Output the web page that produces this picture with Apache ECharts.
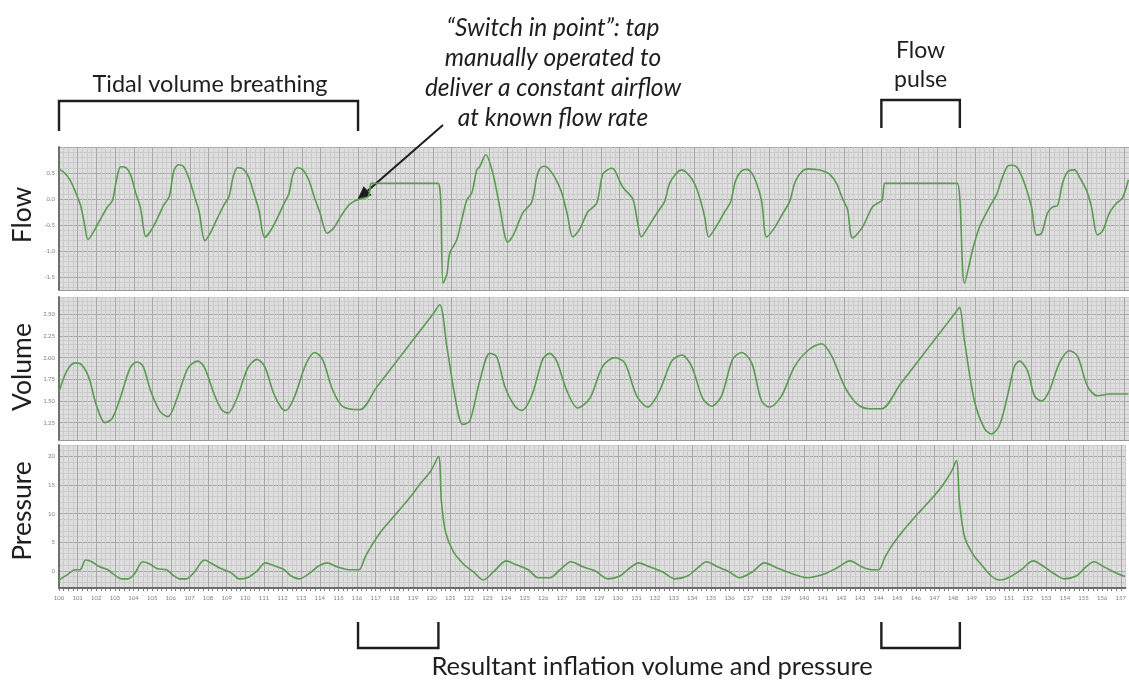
<!DOCTYPE html>
<html>
<head>
<meta charset="utf-8">
<script src="https://cdn.jsdelivr.net/npm/echarts@6/dist/echarts.min.js"></script>
<style>
  html, body { margin: 0; padding: 0; background: #ffffff; }
  #chart { width: 1129px; height: 686px; }
</style>
</head>
<body>
<div id="chart"></div>
<script>
// Time axis (s) and recorded traces: [time, value]
const timeTicks = { min: 100, max: 157.25, step: 0.25 };

const flow = [
  [100.0, 0.58], [100.3, 0.50], [100.6, 0.36], [100.9, 0.12], [101.15, -0.12], [101.35, -0.45],
  [101.55, -0.78], [101.8, -0.66], [102.2, -0.40], [102.6, -0.15], [102.85, -0.04], [103.05, 0.32],
  [103.3, 0.62], [103.6, 0.60], [103.85, 0.45], [104.1, 0.12], [104.35, -0.15], [104.65, -0.72],
  [104.9, -0.62], [105.3, -0.35], [105.6, -0.12], [105.9, 0.05], [106.15, 0.55], [106.4, 0.66],
  [106.65, 0.63], [106.95, 0.40], [107.25, 0.05], [107.5, -0.25], [107.8, -0.80], [108.1, -0.65],
  [108.5, -0.35], [108.85, -0.10], [109.1, 0.05], [109.3, 0.40], [109.55, 0.60], [109.85, 0.58],
  [110.15, 0.42], [110.45, 0.08], [110.7, -0.22], [111.0, -0.74], [111.3, -0.62], [111.7, -0.35],
  [112.05, -0.08], [112.3, 0.10], [112.5, 0.45], [112.75, 0.60], [113.05, 0.56], [113.35, 0.38],
  [113.65, 0.05], [113.95, -0.25], [114.35, -0.66], [114.7, -0.56], [115.1, -0.32], [115.5, -0.12],
  [115.8, -0.04], [116.1, 0.0], [116.55, 0.05], [116.7, 0.30], [116.85, 0.30], [120.2, 0.30],
  [120.3, 0.30], [120.42, 0.0], [120.55, -1.62], [120.75, -1.45], [120.91, -1.04], [121.28, -0.79],
  [121.55, -0.40], [121.82, -0.02], [122.09, 0.12], [122.35, 0.56], [122.51, 0.62], [122.83, 0.85],
  [123.21, 0.50], [123.58, -0.15], [124.01, -0.83], [124.3, -0.70], [124.81, -0.27], [125.29, -0.06],
  [125.56, 0.42], [125.72, 0.58], [125.95, 0.63], [126.15, 0.60], [126.52, 0.42], [126.9, 0.12],
  [127.2, -0.30], [127.49, -0.73], [127.86, -0.58], [128.29, -0.25], [128.77, -0.08], [129.09, 0.48],
  [129.36, 0.56], [129.55, 0.59], [129.73, 0.55], [130.16, 0.23], [130.7, 0.0], [130.96, -0.46],
  [131.15, -0.73], [131.5, -0.55], [132.03, -0.25], [132.4, -0.05], [132.67, 0.30], [133.05, 0.50],
  [133.3, 0.56], [133.6, 0.50], [134.0, 0.30], [134.3, 0.0], [134.55, -0.35], [134.76, -0.73],
  [135.13, -0.55], [135.61, -0.25], [135.94, -0.05], [136.2, 0.35], [136.52, 0.54], [136.8, 0.57],
  [137.06, 0.50], [137.33, 0.30], [137.6, -0.05], [137.86, -0.73], [138.29, -0.55], [138.77, -0.25],
  [139.09, -0.05], [139.41, 0.35], [139.79, 0.54], [140.1, 0.58], [140.43, 0.57], [140.8, 0.55],
  [141.23, 0.48], [141.6, 0.30], [141.93, 0.0], [142.19, -0.20], [142.46, -0.75], [142.99, -0.54],
  [143.53, -0.15], [143.9, -0.06], [144.05, -0.02], [144.17, 0.30], [144.3, 0.30], [147.95, 0.30],
  [148.07, 0.30], [148.2, 0.0], [148.45, -1.62], [148.88, -0.98], [149.25, -0.54], [149.79, -0.15],
  [150.16, 0.08], [150.48, 0.42], [150.75, 0.63], [151.0, 0.65], [151.28, 0.60], [151.66, 0.30],
  [152.03, -0.15], [152.3, -0.69], [152.57, -0.66], [152.89, -0.27], [153.16, -0.15], [153.42, -0.13],
  [153.69, 0.30], [153.96, 0.52], [154.33, 0.56], [154.6, 0.42], [154.97, 0.17], [155.24, -0.15],
  [155.56, -0.69], [155.83, -0.62], [156.2, -0.27], [156.58, -0.08], [156.9, 0.02], [157.22, 0.37]
];

const volume = [
  [100.0, 1.60], [100.4, 1.84], [100.86, 1.94], [101.2, 1.92], [101.6, 1.77], [102.0, 1.45],
  [102.46, 1.25], [102.85, 1.30], [103.3, 1.55], [103.8, 1.88], [104.17, 1.95], [104.5, 1.90],
  [104.9, 1.62], [105.4, 1.38], [105.83, 1.32], [106.3, 1.52], [106.9, 1.88], [107.43, 1.96],
  [107.8, 1.88], [108.3, 1.58], [108.7, 1.40], [109.04, 1.36], [109.5, 1.52], [110.1, 1.88],
  [110.59, 1.98], [111.0, 1.90], [111.5, 1.58], [111.9, 1.42], [112.14, 1.39], [112.6, 1.55],
  [113.2, 1.92], [113.69, 2.06], [114.1, 1.98], [114.6, 1.65], [115.1, 1.45], [115.5, 1.41],
  [116.1, 1.40], [117.0, 1.66], [118.0, 1.94], [119.0, 2.22], [120.0, 2.50], [120.37, 2.61],
  [120.75, 2.13], [121.18, 1.56], [121.6, 1.23], [121.98, 1.27], [122.51, 1.73], [123.05, 2.05],
  [123.42, 2.01], [123.85, 1.67], [124.39, 1.44], [124.76, 1.39], [125.29, 1.56], [125.88, 1.98],
  [126.26, 2.05], [126.63, 1.96], [127.17, 1.62], [127.75, 1.42], [128.4, 1.53], [129.09, 1.90],
  [129.73, 2.00], [130.27, 1.94], [130.91, 1.56], [131.5, 1.43], [132.14, 1.62], [132.78, 1.96],
  [133.32, 2.03], [133.85, 1.90], [134.44, 1.53], [134.92, 1.44], [135.45, 1.56], [136.04, 1.98],
  [136.52, 2.06], [137.06, 1.94], [137.59, 1.50], [138.02, 1.43], [138.66, 1.56], [139.36, 1.90],
  [140.16, 2.10], [140.8, 2.16], [141.34, 2.02], [142.03, 1.67], [142.73, 1.46], [143.37, 1.41],
  [144.01, 1.41], [145.0, 1.69], [146.0, 1.97], [147.0, 2.25], [148.0, 2.53], [148.18, 2.58],
  [148.45, 2.19], [148.98, 1.50], [149.52, 1.18], [149.89, 1.12], [150.32, 1.22], [150.75, 1.56],
  [151.12, 1.90], [151.39, 1.96], [151.82, 1.85], [152.19, 1.56], [152.57, 1.50], [152.99, 1.62],
  [153.53, 1.94], [154.06, 2.08], [154.49, 2.02], [155.03, 1.67], [155.56, 1.56], [156.2, 1.58],
  [157.22, 1.58]
];

const pressure = [
  [100.0, -1.6], [100.43, -0.7], [100.86, 0.2], [101.12, 0.2], [101.44, 1.9], [101.76, 1.6],
  [102.19, 0.7], [102.62, 0.2], [102.89, -0.5], [103.37, -1.4], [103.69, -1.4], [104.06, -0.5],
  [104.49, 1.6], [104.87, 1.2], [105.29, 0.35], [105.78, 0.2], [106.1, -0.7], [106.47, -1.4],
  [106.84, -1.4], [107.27, -0.2], [107.81, 1.9], [108.24, 1.2], [108.72, 0.35], [109.25, -0.35],
  [109.68, -1.4], [110.11, -1.2], [110.64, 0.0], [111.07, 1.4], [111.55, 0.9], [112.09, 0.2],
  [112.46, -0.9], [112.89, -1.4], [113.42, -0.5], [113.96, 0.9], [114.39, 1.4], [114.92, 0.7],
  [115.56, 0.2], [116.1, 0.2], [116.42, 2.3], [116.74, 4.2], [117.27, 6.8], [117.81, 8.9],
  [118.34, 10.9], [118.88, 13.0], [119.41, 15.3], [119.95, 17.4], [120.37, 20.0], [120.53, 12.1],
  [120.75, 6.8], [121.18, 3.3], [121.71, 1.2], [122.25, -0.2], [122.78, -1.6], [123.32, -0.2],
  [124.01, 1.75], [124.55, 1.05], [125.19, 0.2], [125.72, -1.2], [126.36, -1.2], [126.9, 0.2],
  [127.49, 1.6], [128.13, 0.7], [128.77, 0.0], [129.47, -1.4], [130.11, -0.9], [130.64, 0.5],
  [131.12, 1.4], [131.71, 0.7], [132.41, -0.2], [133.05, -1.4], [133.74, -0.9], [134.28, 0.5],
  [134.76, 1.6], [135.35, 0.7], [135.99, -0.2], [136.52, -1.2], [137.22, -0.2], [137.86, 1.4],
  [138.56, 0.5], [139.36, -0.5], [140.16, -1.2], [140.96, -0.7], [141.76, 0.5], [142.46, 1.75],
  [143.1, 0.7], [143.64, 0.2], [144.01, 0.2], [144.33, 2.3], [144.71, 4.4], [145.24, 6.7],
  [145.78, 8.8], [146.31, 10.7], [146.84, 12.6], [147.38, 14.7], [147.91, 17.4], [148.18, 19.3],
  [148.34, 12.1], [148.61, 6.0], [149.04, 3.0], [149.52, 1.05], [150.05, -0.9], [150.48, -1.6],
  [150.96, -1.2], [151.66, 0.2], [152.3, 1.75], [152.89, 0.7], [153.42, -0.5], [153.96, -1.4],
  [154.6, -0.9], [155.13, 0.7], [155.56, 1.6], [156.1, 0.7], [156.63, -0.2], [157.22, -1.0]
];

// Vertical scale of each panel: range, grid step, labelled step
const flowScale = { min: -1.75, max: 1.0, step: 0.05, labelStep: 0.5, digits: 1 };
const volumeScale = { min: 1.05, max: 2.70, step: 0.05, labelStep: 0.25, digits: 2 };
const pressureScale = { min: -3, max: 22, step: 1, labelStep: 5, digits: 0 };

const panelTitles = ['Flow', 'Volume', 'Pressure'];

const TRACE = '#5b9a52';
const BG = '#dedede';
const MINOR = '#cbcbcb';
const MAJOR = '#a8a8a8';
const NONE = 'rgba(0,0,0,0)';
const FONT = 'Lato';

function isMultiple(v, step) {
  const r = v / step;
  return Math.abs(r - Math.round(r)) < 1e-6;
}

// Colour list for split lines: one entry per tick, repeating
function lineColors(scale, minorStep) {
  const n = Math.round(scale.labelStep / scale.step);
  const out = [];
  for (let i = 0; i < n * 2; i++) {
    const v = scale.min + i * scale.step;
    if (isMultiple(v, scale.labelStep)) out.push(MAJOR);
    else if (isMultiple(v, minorStep)) out.push(MINOR);
    else out.push(NONE);
  }
  return out;
}

const grids = [
  { left: 59, right: 0, top: 147, height: 143 },
  { left: 59, right: 0, top: 297, height: 143 },
  { left: 59, right: 0, top: 445, height: 143 }
];

function xAxisFor(idx) {
  const bottom = idx === 2;
  return {
    type: 'value', gridIndex: idx,
    min: timeTicks.min, max: timeTicks.max, interval: timeTicks.step,
    axisLine: { show: true, onZero: false, lineStyle: { color: bottom ? '#6a6a6a' : '#9a9a9a', width: bottom ? 2 : 1 } },
    axisTick: { show: bottom, length: 3, lineStyle: { color: '#7a7a7a' } },
    axisLabel: {
      show: bottom, fontSize: 6, color: '#808080', margin: 7, fontFamily: FONT,
      showMaxLabel: false,
      formatter: v => isMultiple(v, 1) ? String(Math.round(v)) : ''
    },
    splitLine: {
      show: true,
      lineStyle: { width: 1, color: [MAJOR, MINOR, MINOR, MINOR] }
    }
  };
}

function yAxisFor(idx, s, minorStep) {
  return {
    type: 'value', gridIndex: idx,
    min: s.min, max: s.max, interval: s.step,
    axisLine: { show: true, lineStyle: { color: '#707070', width: 2 } },
    axisTick: { show: false },
    axisLabel: {
      fontSize: 6, color: '#808080', margin: 4, fontFamily: FONT,
      showMaxLabel: false, showMinLabel: false,
      formatter: v => isMultiple(v, s.labelStep) ? v.toFixed(s.digits) : ''
    },
    splitLine: { show: true, lineStyle: { width: 1, color: lineColors(s, minorStep) } }
  };
}

const chart = echarts.init(document.getElementById('chart'), null, { renderer: 'canvas' });

const traceSeries = (data, idx) => ({
  type: 'line', xAxisIndex: idx, yAxisIndex: idx, data,
  showSymbol: false, smooth: 0.3,
  lineStyle: { color: TRACE, width: 1.6 }, silent: true
});

chart.setOption({
  animation: false,
  backgroundColor: '#ffffff',
  grid: grids.map(g => Object.assign({ show: true, backgroundColor: BG, borderWidth: 0 }, g)),
  xAxis: [xAxisFor(0), xAxisFor(1), xAxisFor(2)],
  yAxis: [
    yAxisFor(0, flowScale, 0.1),
    yAxisFor(1, volumeScale, 0.05),
    yAxisFor(2, pressureScale, 1)
  ],
  series: [traceSeries(flow, 0), traceSeries(volume, 1), traceSeries(pressure, 2)]
});

// Annotations placed against the time axis
const X = v => chart.convertToPixel({ xAxisIndex: 0 }, v);
const INK = '#1e1e1e';

function bracketDown(x0, x1, yTop, yBot) {
  return { type: 'polyline', shape: { points: [[x0, yBot], [x0, yTop], [x1, yTop], [x1, yBot]] },
           style: { stroke: INK, lineWidth: 2.4, fill: null } };
}
function bracketUp(x0, x1, yTop, yBot) {
  return { type: 'polyline', shape: { points: [[x0, yTop], [x0, yBot], [x1, yBot], [x1, yTop]] },
           style: { stroke: INK, lineWidth: 2.4, fill: null } };
}
function label(text, x, y, size, italic) {
  return { type: 'text', x, y, style: {
    text, fill: INK, font: (italic ? 'italic ' : '') + size + 'px ' + FONT,
    align: 'center', verticalAlign: 'middle'
  } };
}

const switchLines = ['\u201CSwitch in point\u201D: tap', 'manually operated to',
                     'deliver a constant airflow', 'at known flow rate'];

const tip = chart.convertToPixel({ gridIndex: 0 }, [115.95, -0.02]);
const tail = [443, 125];
const dx = tip[0] - tail[0], dy = tip[1] - tail[1];
const len = Math.hypot(dx, dy);
const ux = dx / len, uy = dy / len;
const headL = 14, headW = 6;
const bx = tip[0] - ux * headL, by = tip[1] - uy * headL;

const graphics = [
  label('Tidal volume breathing', 210, 84, 23.5),
  bracketDown(X(100), X(116.0), 101, 131),
  label('Flow', X(146.1), 51, 23),
  label('pulse', X(146.1), 80, 23),
  bracketDown(X(144.0), X(148.2), 100, 128),
  bracketUp(X(116.0), X(120.3), 622, 648),
  bracketUp(X(144.0), X(148.2), 622, 648),
  label('Resultant inflation volume and pressure', 652, 667, 25.5),
  { type: 'line', shape: { x1: tail[0], y1: tail[1], x2: bx, y2: by }, style: { stroke: INK, lineWidth: 2 } },
  { type: 'polygon', shape: { points: [[tip[0], tip[1]],
      [bx + uy * headW, by - ux * headW], [bx - uy * headW, by + ux * headW]] }, style: { fill: INK } }
];
switchLines.forEach((t, i) => graphics.push(label(t, 553, 28 + i * 30, 24.5, true)));
const titleY = [215, 367, 511];
panelTitles.forEach((t, i) => graphics.push(Object.assign(label(t, 0, 0, 26.5), {
  x: 22, y: titleY[i], rotation: Math.PI / 2
})));

chart.setOption({ graphic: graphics });
</script>
</body>
</html>
